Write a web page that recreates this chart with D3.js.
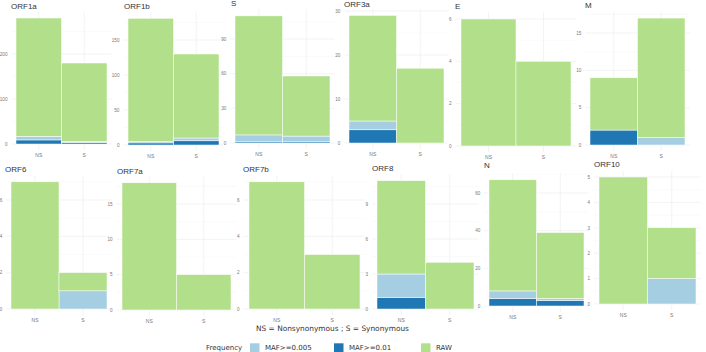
<!DOCTYPE html>
<head>
  <meta charset="utf-8">
  <script src="https://cdn.jsdelivr.net/npm/d3@7"></script>
  <style>
    body { margin: 0; background: #fff; }
  </style>
</head>
<body>
<script>
  // genes, one small panel each
  var genes = ["ORF1a", "ORF1b", "S", "ORF3a", "E", "M", "ORF6", "ORF7a", "ORF7b", "ORF8", "N", "ORF10"];
  var classes = ["NS", "S"];
  // counts per gene as [NS, S]
  var maf01  = [[9, 3], [3, 6], [1, 1], [3, 0], [0, 0], [2, 0], [0, 0], [0, 0], [0, 0], [1, 0], [4, 3], [0, 0]];
  var maf005 = [[8, 3], [2, 4], [6, 5], [2, 0], [0, 0], [0, 1], [0, 1], [0, 0], [0, 0], [2, 0], [4, 1], [0, 1]];
  var rawRest = [[263, 174], [176, 120], [103, 52], [24, 17], [6, 4], [7, 16], [7, 1], [18, 5], [7, 3], [8, 4], [59, 35], [5, 2]];
  var yTicks = [[0, 100, 200], [0, 50, 100, 150], [0, 30, 60, 90], [0, 10, 20, 30], [0, 2, 4, 6], [0, 5, 10, 15],
                [0, 2, 4, 6], [0, 5, 10, 15], [0, 2, 4, 6], [0, 3, 6, 9], [0, 20, 40, 60], [0, 1, 2, 3, 4, 5]];
  var legendKeys = ["MAF>=0.005", "MAF>=0.01", "RAW"];

  // layout: bar left, bar right, y of zero, y of top tick, title x, title baseline
  var layout = [
    [16, 107, 144, 54, 11, 8.5], [128, 219, 145, 40, 124, 8.5], [235, 330, 143, 39, 231, 5.5],
    [349, 444, 143, 11, 344, 7], [461, 571, 146, 19, 455, 9.3], [590, 685, 145, 33, 585, 8],
    [11, 107, 309, 200, 5, 172], [122, 231, 310, 204, 117, 174], [249, 360, 309, 200, 243, 172],
    [377, 474, 309, 204, 372, 171], [489, 584, 306, 193, 484, 168], [599, 696, 304, 177, 594, 167]
  ];

  var colors = {"MAF>=0.01": "#1f78b4", "MAF>=0.005": "#a6cee3", "RAW": "#b2df8a"};
  var stackKeys = ["MAF>=0.01", "MAF>=0.005", "RAW"];

  var svg = d3.select("body").append("svg")
    .attr("width", 706)
    .attr("height", 352);

  genes.forEach(function(gene, gi) {
    var L = layout[gi];
    var ticks = yTicks[gi];
    var rows = classes.map(function(c, ci) {
      return {cls: c, "MAF>=0.01": maf01[gi][ci], "MAF>=0.005": maf005[gi][ci], "RAW": rawRest[gi][ci]};
    });
    var series = d3.stack().keys(stackKeys)(rows);
    var maxTotal = d3.max(rows, function(r) { return r["MAF>=0.01"] + r["MAF>=0.005"] + r["RAW"]; });

    var x = d3.scaleBand().domain(classes).range([L[0], L[1]]).padding(0);
    var y = d3.scaleLinear().domain([0, ticks[ticks.length - 1]]).range([L[2], L[3]]);

    var bw = x.bandwidth();
    var pLeft = L[0] - 0.1 * bw, pRight = L[1] + 0.1 * bw;
    var pTop = y(maxTotal * 1.05), pBottom = y(-maxTotal * 0.05);

    var g = svg.append("g");

    // minor gridlines
    var step = ticks[1] - ticks[0];
    var minor = [];
    for (var k = -1; k <= ticks.length; k++) {
      var v = ticks[0] + (k + 0.5) * step;
      if (y(v) >= pTop && y(v) <= pBottom) minor.push(v);
    }
    g.selectAll(".minor").data(minor).enter().append("line")
      .attr("x1", pLeft).attr("x2", pRight)
      .attr("y1", function(d) { return y(d); }).attr("y2", function(d) { return y(d); })
      .attr("stroke", "#f2f2f2").attr("stroke-width", 0.4);
    // major gridlines
    g.selectAll(".major").data(ticks).enter().append("line")
      .attr("x1", pLeft).attr("x2", pRight)
      .attr("y1", function(d) { return y(d); }).attr("y2", function(d) { return y(d); })
      .attr("stroke", "#ebebeb").attr("stroke-width", 0.6);
    g.selectAll(".vgrid").data(classes).enter().append("line")
      .attr("x1", function(d) { return x(d) + bw / 2; }).attr("x2", function(d) { return x(d) + bw / 2; })
      .attr("y1", pTop).attr("y2", pBottom)
      .attr("stroke", "#ebebeb").attr("stroke-width", 0.6);

    // stacked bars
    series.forEach(function(s) {
      g.selectAll(null).data(s).enter().append("rect")
        .filter(function(d) { return d[1] > d[0]; })
        .attr("x", function(d) { return x(d.data.cls); })
        .attr("width", bw)
        .attr("y", function(d) { return y(d[1]); })
        .attr("height", function(d) { return y(d[0]) - y(d[1]); })
        .attr("fill", colors[s.key])
        .attr("stroke", "#fff")
        .attr("stroke-width", 0.5);
    });

    // axes text
    g.selectAll(".ytick").data(ticks).enter().append("text")
      .attr("x", pLeft - 4)
      .attr("y", function(d) { return y(d) + 1.7; })
      .attr("text-anchor", "end")
      .style("font-family", "Liberation Sans, Arial, sans-serif")
      .style("font-size", "4.6px")
      .style("fill", "#777")
      .text(function(d) { return d; });

    g.selectAll(".xtick").data(classes).enter().append("text")
      .attr("x", function(d) { return x(d) + bw / 2; })
      .attr("y", L[2] + 12.5)
      .attr("text-anchor", "middle")
      .style("font-family", "Liberation Sans, Arial, sans-serif")
      .style("font-size", "5px")
      .style("fill", "#777")
      .text(function(d) { return d; });

    g.append("text")
      .attr("x", L[4])
      .attr("y", L[5])
      .style("font-family", "Liberation Sans, Arial, sans-serif")
      .style("font-size", "8px")
      .style("fill", "#333")
      .text(gene);
  });

  // caption and legend
  svg.append("text")
    .attr("x", 332.5).attr("y", 331)
    .attr("text-anchor", "middle")
    .style("font-family", "DejaVu Sans, Verdana, sans-serif")
    .style("font-size", "7.4px")
    .style("fill", "#333")
    .text("NS = Nonsynonymous ; S = Synonymous");

  var legend = svg.append("g");
  legend.append("text")
    .attr("x", 206).attr("y", 349.5)
    .style("font-family", "DejaVu Sans, Verdana, sans-serif")
    .style("font-size", "7px")
    .style("fill", "#333")
    .text("Frequency");

  var legPos = [250, 334, 421];
  legend.selectAll("rect").data(legendKeys).enter().append("rect")
    .attr("x", function(d, i) { return legPos[i]; })
    .attr("y", 343.3)
    .attr("width", 9.5).attr("height", 9.5)
    .attr("fill", function(d) { return colors[d]; });
  legend.selectAll(".lt").data(legendKeys).enter().append("text")
    .attr("x", function(d, i) { return legPos[i] + 15; })
    .attr("y", 349.5)
    .style("font-family", "DejaVu Sans, Verdana, sans-serif")
    .style("font-size", "7px")
    .style("fill", "#333")
    .text(function(d) { return d; });
</script>
</body>
